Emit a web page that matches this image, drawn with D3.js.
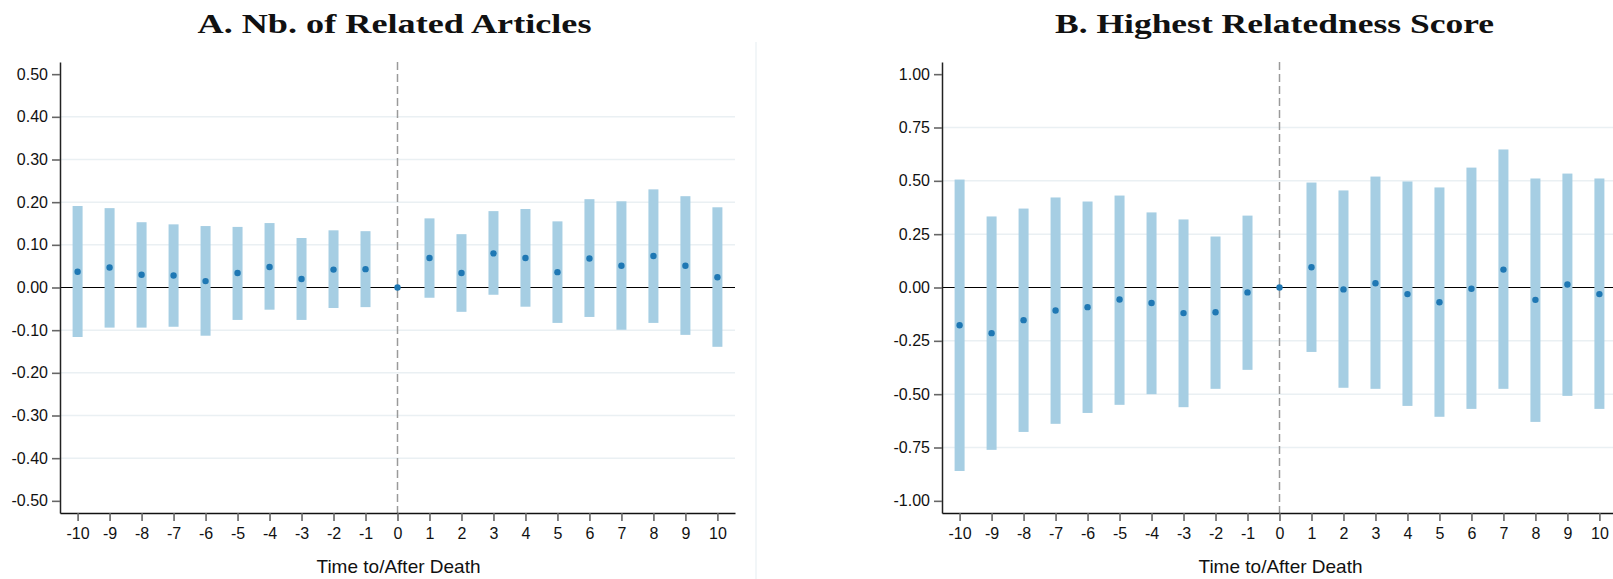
<!DOCTYPE html>
<html>
<head>
<meta charset="utf-8">
<script src="https://cdn.jsdelivr.net/npm/d3@7"></script>
<style>
  html, body { margin: 0; padding: 0; background: #ffffff; }
  svg { display: block; }
</style>
</head>
<body>
<svg id="chart" width="1613" height="579"></svg>
<script>
// ---------- data ----------
const periods = [-10, -9, -8, -7, -6, -5, -4, -3, -2, -1, 0, 1, 2, 3, 4, 5, 6, 7, 8, 9, 10];

// Panel A: Nb. of Related Articles
const aEst = [0.037, 0.047, 0.030, 0.028, 0.015, 0.034, 0.048, 0.020, 0.042, 0.043, 0.000,
              0.069, 0.034, 0.080, 0.069, 0.036, 0.068, 0.051, 0.074, 0.051, 0.024];
const aLo  = [-0.116, -0.094, -0.094, -0.092, -0.113, -0.076, -0.052, -0.076, -0.048, -0.046, null,
              -0.024, -0.057, -0.017, -0.045, -0.083, -0.069, -0.099, -0.083, -0.111, -0.139];
const aHi  = [0.191, 0.186, 0.153, 0.148, 0.144, 0.142, 0.151, 0.116, 0.134, 0.132, null,
              0.162, 0.125, 0.179, 0.184, 0.155, 0.207, 0.202, 0.230, 0.214, 0.188];

// Panel B: Highest Relatedness Score
const bEst = [-0.177, -0.214, -0.153, -0.108, -0.092, -0.056, -0.073, -0.120, -0.116, -0.023, 0.000,
              0.095, -0.009, 0.020, -0.031, -0.069, -0.006, 0.084, -0.058, 0.014, -0.031];
const bLo  = [-0.860, -0.761, -0.677, -0.639, -0.588, -0.550, -0.500, -0.561, -0.475, -0.386, null,
              -0.302, -0.470, -0.475, -0.555, -0.606, -0.569, -0.475, -0.630, -0.508, -0.569];
const bHi  = [0.506, 0.333, 0.370, 0.422, 0.403, 0.431, 0.352, 0.319, 0.239, 0.337, null,
              0.492, 0.455, 0.520, 0.497, 0.469, 0.562, 0.647, 0.511, 0.534, 0.511];

const aTicks = [-0.5, -0.4, -0.3, -0.2, -0.1, 0, 0.1, 0.2, 0.3, 0.4, 0.5];
const bTicks = [-1.0, -0.75, -0.5, -0.25, 0, 0.25, 0.5, 0.75, 1.0];
const aGrid  = [-0.4, -0.3, -0.2, -0.1, 0.1, 0.2, 0.3, 0.4];
const bGrid  = [-0.75, -0.5, -0.25, 0.25, 0.5, 0.75];

const titles = ["A. Nb. of Related Articles", "B. Highest Relatedness Score"];
const xTitle = "Time to/After Death";

// ---------- drawing ----------
const svg = d3.select("#chart");
svg.append("rect").attr("width", 1613).attr("height", 579).attr("fill", "#ffffff");

// faint separator between panels
svg.append("line")
  .attr("x1", 756).attr("x2", 756).attr("y1", 42).attr("y2", 579)
  .attr("stroke", "#e5edf1").attr("stroke-width", 1);

const BAR = "#a6cee3", DOT = "#1f78b4";

function panel(opts) {
  const { left, right, yMax, est, lo, hi, ticks, grid, title, titleX, titleW } = opts;
  const top = 62, bottom = 513;
  const x = d3.scaleLinear().domain([-10.55, 10.55]).range([left, right]);
  const y = d3.scaleLinear().domain([-yMax, yMax]).range([bottom, top]);
  const g = svg.append("g");

  // gridlines
  g.selectAll(".grid").data(grid).join("line")
    .attr("x1", left).attr("x2", right)
    .attr("y1", d => y(d)).attr("y2", d => y(d))
    .attr("stroke", "#eaf0f3").attr("stroke-width", 1.5);

  // zero line
  g.append("line")
    .attr("x1", left).attr("x2", right)
    .attr("y1", y(0)).attr("y2", y(0))
    .attr("stroke", "#000").attr("stroke-width", 1.2);

  // dashed vertical reference
  g.append("line")
    .attr("x1", x(0)).attr("x2", x(0))
    .attr("y1", top).attr("y2", bottom)
    .attr("stroke", "#9a9a9a").attr("stroke-width", 1.5)
    .attr("stroke-dasharray", "8,4");

  const data = periods.map((p, i) => ({ p, e: est[i], lo: lo[i], hi: hi[i] }));

  // CI bars
  g.selectAll(".bar").data(data.filter(d => d.lo !== null)).join("rect")
    .attr("x", d => x(d.p) - 5)
    .attr("width", 10)
    .attr("y", d => y(d.hi))
    .attr("height", d => y(d.lo) - y(d.hi))
    .attr("fill", BAR);

  // point estimates
  g.selectAll(".dot").data(data).join("circle")
    .attr("cx", d => x(d.p)).attr("cy", d => y(d.e))
    .attr("r", 3.2).attr("fill", DOT);

  // y axis
  const ya = g.append("g").attr("transform", `translate(${left},0)`)
    .call(d3.axisLeft(y).tickValues(ticks).tickSize(8).tickSizeOuter(0).tickPadding(4)
      .tickFormat(d => d.toFixed(2)));
  ya.select(".domain").attr("stroke", "#222").attr("stroke-width", 1.5);
  ya.selectAll(".tick line").attr("stroke", "#666").attr("stroke-width", 1.6);
  ya.selectAll(".tick text").attr("font-family", "'Liberation Sans', Arial, sans-serif")
    .attr("font-size", 16).attr("fill", "#111");

  // x axis
  const xa = g.append("g").attr("transform", `translate(0,${bottom})`)
    .call(d3.axisBottom(x).tickValues(periods).tickSize(8).tickSizeOuter(0).tickPadding(7)
      .tickFormat(d => String(d)));
  xa.select(".domain").attr("stroke", "#111").attr("stroke-width", 1.5);
  xa.selectAll(".tick line").attr("stroke", "#666").attr("stroke-width", 1.6);
  xa.selectAll(".tick text").attr("font-family", "'Liberation Sans', Arial, sans-serif")
    .attr("font-size", 16).attr("fill", "#111");

  // axis title
  g.append("text")
    .attr("x", x(0) + 1).attr("y", 573)
    .attr("text-anchor", "middle")
    .attr("font-family", "'Liberation Sans', Arial, sans-serif")
    .attr("font-size", 19).attr("fill", "#111")
    .text(xTitle);

  // panel title
  g.append("text")
    .attr("x", titleX).attr("y", 33)
    .attr("text-anchor", "middle")
    .attr("font-family", "'Liberation Serif', 'Times New Roman', serif")
    .attr("font-weight", "bold")
    .attr("font-size", 26.5).attr("fill", "#111")
    .attr("textLength", titleW).attr("lengthAdjust", "spacingAndGlyphs")
    .text(title);
}

panel({ left: 60, right: 735, yMax: 0.5285, est: aEst, lo: aLo, hi: aHi,
        ticks: aTicks, grid: aGrid, title: titles[0], titleX: 394.5, titleW: 394 });
panel({ left: 942, right: 1617, yMax: 1.057, est: bEst, lo: bLo, hi: bHi,
        ticks: bTicks, grid: bGrid, title: titles[1], titleX: 1274.5, titleW: 439 });
</script>
</body>
</html>
